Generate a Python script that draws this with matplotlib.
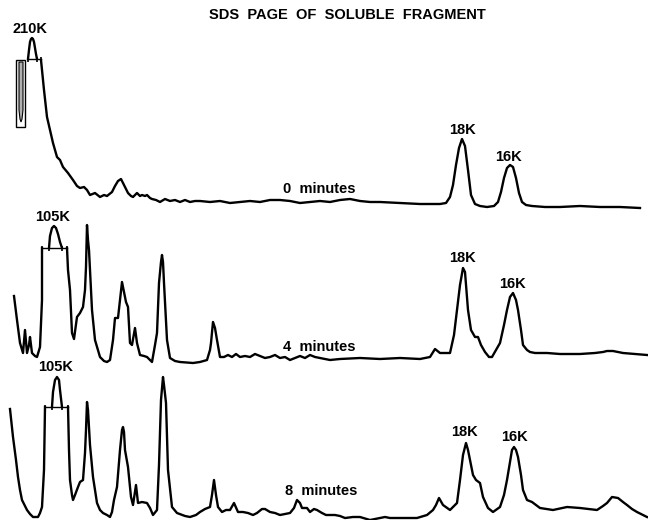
import matplotlib.pyplot as plt
from matplotlib.patches import Rectangle

# densitometer traces as (position along gel, trace height on page)
trace_0min = [(41, 60), (44, 90), (47, 117), (50, 130), (53, 143), (57, 157), (60, 160),
              (63, 167), (68, 173), (73, 180), (77, 186), (80, 188), (84, 187), (87, 190),
              (90, 195), (95, 193), (100, 197), (104, 195), (107, 196), (112, 192),
              (115, 186), (118, 181), (121, 179), (123, 183), (125, 187), (128, 193),
              (131, 196), (133, 197), (137, 193), (140, 196), (142, 195), (145, 196),
              (147, 195), (150, 198), (152, 199), (156, 200), (160, 202), (165, 199),
              (170, 201), (175, 200), (180, 202), (185, 200), (190, 202), (195, 201),
              (200, 201), (210, 202), (220, 201), (230, 203), (240, 202), (250, 201),
              (260, 202), (270, 200), (280, 200), (290, 201), (300, 203), (310, 202),
              (320, 201), (330, 202), (340, 200), (350, 199), (360, 201), (370, 202),
              (380, 202), (400, 203), (420, 204), (440, 204), (446, 203), (450, 197),
              (453, 185), (456, 165), (459, 148), (462, 139), (465, 146), (468, 170),
              (471, 195), (475, 204), (480, 206), (487, 207), (494, 206), (498, 202),
              (501, 192), (504, 178), (507, 168), (510, 165), (513, 167), (516, 178),
              (519, 193), (522, 202), (526, 205), (532, 206), (545, 207), (560, 207),
              (580, 206), (600, 207), (620, 207), (640, 208)]
peak_210k = [(28, 59), (29, 50), (30, 42), (31, 39), (32, 38), (33, 39), (34, 42),
             (35, 48), (36, 54), (37, 59)]

trace_4min_a = [(14, 296), (17, 320), (20, 343), (23, 353), (25, 330), (27, 353),
                (29, 345), (30, 337), (31, 345), (32, 353), (35, 356), (37, 357),
                (40, 347), (42, 300), (42, 248)]
peak_105k_4 = [(49, 248), (50, 236), (52, 228), (54, 226), (56, 228), (58, 234),
               (60, 242), (62, 248)]
trace_4min_b = [(67, 248), (68, 270), (70, 290), (72, 333), (74, 339), (77, 317), (80, 313),
                (83, 307), (85, 290), (86, 267), (87, 225), (88, 240), (89, 250), (92, 310),
                (95, 340), (100, 357), (104, 361), (107, 362), (110, 360), (113, 340),
                (115, 318), (118, 318), (120, 300), (122, 282), (124, 292), (126, 302),
                (128, 307), (130, 343), (132, 345), (135, 328), (137, 343), (140, 355),
                (144, 356), (147, 357), (152, 362), (155, 345), (157, 333), (159, 283),
                (161, 262), (162, 255), (163, 262), (164, 283), (167, 340), (170, 358),
                (175, 361), (180, 362), (193, 363), (200, 362), (207, 360), (210, 350),
                (211, 343), (213, 322), (215, 328), (217, 340), (220, 357), (224, 357),
                (228, 355), (232, 357), (236, 354), (240, 357), (245, 356), (250, 357),
                (255, 354), (260, 356), (265, 358), (270, 357), (275, 355), (280, 358),
                (285, 357), (290, 360), (295, 358), (300, 356), (305, 358), (310, 355),
                (315, 357), (320, 358), (330, 360), (340, 359), (360, 358), (380, 359),
                (400, 358), (420, 359), (430, 357), (435, 349), (440, 353), (445, 353),
                (450, 353), (454, 335), (457, 310), (460, 285), (463, 268), (465, 272),
                (468, 310), (471, 330), (475, 337), (478, 337), (481, 345), (485, 352),
                (489, 357), (492, 357), (496, 350), (500, 343), (504, 325), (507, 310),
                (510, 297), (513, 293), (516, 300), (518, 310), (521, 330), (523, 345),
                (527, 350), (530, 352), (535, 353), (547, 353), (560, 354), (580, 354),
                (595, 353), (603, 352), (607, 351), (613, 351), (618, 352), (623, 353),
                (635, 354), (647, 355)]

trace_8min_a = [(10, 409), (13, 437), (16, 460), (18, 477), (20, 490), (22, 500), (25, 506),
                (27, 510), (30, 514), (33, 517), (38, 517), (40, 513), (42, 507),
                (44, 470), (45, 407)]
peak_105k_8 = [(52, 407), (53, 392), (55, 380), (57, 377), (59, 380), (60, 390), (62, 407)]
trace_8min_b = [(68, 407), (69, 450), (70, 480), (72, 495), (73, 500), (75, 495), (78, 487),
                (80, 482), (83, 480), (85, 453), (86, 430), (87, 402), (88, 410), (89, 427),
                (90, 445), (93, 477), (97, 503), (100, 510), (103, 513), (107, 515),
                (110, 517), (112, 512), (114, 500), (117, 487), (120, 450), (122, 430),
                (123, 427), (124, 432), (125, 450), (128, 467), (131, 497), (133, 505),
                (135, 492), (136, 485), (138, 503), (142, 502), (147, 503), (150, 508),
                (153, 515), (157, 510), (159, 465), (161, 400), (163, 377), (164, 385),
                (166, 403), (168, 470), (172, 507), (177, 513), (185, 516), (190, 517),
                (196, 515), (200, 512), (205, 509), (210, 507), (212, 495), (214, 480),
                (216, 495), (218, 507), (222, 512), (226, 510), (230, 510), (234, 503),
                (238, 512), (243, 512), (248, 513), (253, 515), (257, 513), (262, 509),
                (265, 509), (270, 512), (275, 513), (280, 515), (285, 514), (290, 513),
                (294, 508), (297, 500), (300, 503), (302, 508), (305, 508), (307, 508),
                (310, 512), (314, 509), (317, 510), (322, 513), (326, 515), (330, 515),
                (335, 515), (340, 516), (345, 518), (353, 517), (360, 517), (370, 520),
                (380, 518), (385, 517), (390, 518), (400, 518), (410, 518), (417, 518),
                (427, 515), (433, 510), (436, 505), (439, 498), (443, 505), (450, 510),
                (457, 503), (460, 480), (463, 455), (466, 443), (468, 450), (470, 460),
                (473, 475), (476, 480), (480, 483), (483, 497), (488, 508), (493, 512),
                (500, 507), (504, 495), (507, 480), (510, 462), (512, 450), (514, 447),
                (516, 450), (518, 457), (521, 475), (523, 490), (527, 500), (532, 502),
                (540, 508), (553, 510), (567, 507), (580, 508), (597, 510), (603, 506),
                (607, 503), (612, 497), (618, 498), (623, 502), (627, 505), (632, 509),
                (637, 512), (647, 517)]

title = "SDS  PAGE  OF  SOLUBLE  FRAGMENT"
lane_labels = ["0  minutes", "4  minutes", "8  minutes"]
lane_label_xy = [(319, 189), (319, 347), (321, 491)]
band_labels = [("210K", 30, 29), ("18K", 462, 130), ("16K", 509, 157),
               ("105K", 53, 217), ("18K", 463, 258), ("16K", 512, 284),
               ("105K", 56, 367), ("18K", 465, 432), ("16K", 514, 437)]

fig = plt.figure(figsize=(6.48, 5.2), dpi=100)
ax = fig.add_axes([0, 0, 1, 1])
ax.set_xlim(0, 648)
ax.set_ylim(520, 0)
ax.axis("off")

lw = 1.7
for pts in [trace_0min, peak_210k, trace_4min_a, peak_105k_4, trace_4min_b,
            trace_8min_a, peak_105k_8, trace_8min_b]:
    xs = [p[0] for p in pts]
    ys = [p[1] for p in pts]
    ax.plot(xs, ys, color="black", lw=lw, solid_joinstyle="round")

# truncated off-scale peaks: brackets with end ticks
brackets = [(28, 41, 59, [28, 37, 41]),
            (42, 67, 248, [42, 49, 62, 67]),
            (45, 68, 407, [45, 52, 62, 68])]
for x0, x1, yb, ticks in brackets:
    ax.plot([x0, x1], [yb, yb], color="black", lw=1.0)
    ax.vlines(ticks, yb - 2.5, yb + 2.5, color="black", lw=1.2)

# inset box of the 210K band
ax.add_patch(Rectangle((16, 60), 9, 67, fill=False, ec="black", lw=1.0))
ax.fill([19, 19, 20, 21, 22, 23, 23], [62, 110, 119, 122, 119, 110, 62],
        color="#b0b0b0", ec="black", lw=0.8)

font = dict(family="Liberation Sans", fontweight="bold")
ax.text(347, 15, title, ha="center", va="center", fontsize=10.5, **font)
for txt, (x, y) in zip(lane_labels, lane_label_xy):
    ax.text(x, y, txt, ha="center", va="center", fontsize=10.5, **font)
for txt, x, y in band_labels:
    ax.text(x, y, txt, ha="center", va="center", fontsize=10.5, **font)

fig.savefig("out.png", dpi=100)
